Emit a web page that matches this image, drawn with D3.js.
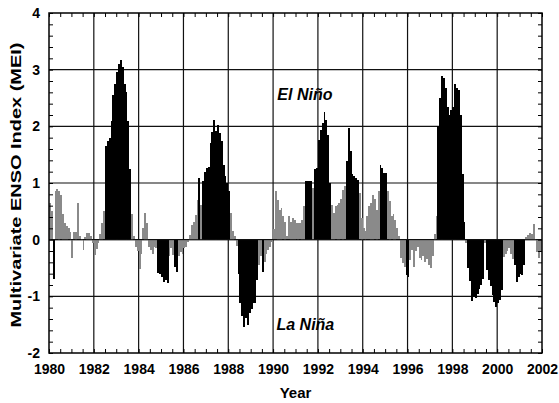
<!DOCTYPE html>
<html><head><meta charset="utf-8">
<script src="https://cdn.jsdelivr.net/npm/d3@7"></script>
<style>
body{margin:0;background:#fff;}
text{font-family:"Liberation Sans",Arial,Helvetica,sans-serif;}
</style></head>
<body><svg id="c" width="559" height="403"></svg>
<script>
// ---------- data ----------
const startYear = 1980;
// monthly MEI values, Jan 1980 .. Dec 2001 (one row per year)
const meiValues = [
 0.65, 0.5, -0.68, 0.85, 0.89, 0.86, 0.78, 0.45, 0.3, 0.25, 0.2, 0.14,
 -0.32, 0.13, 0.14, 0.64, 0.06, 0.02, -0.17, 0.04, 0.12, 0.12, 0.07, -0.05,
 -0.26, -0.16, -0.06, 0.1, 0.3, 0.5, 1.65, 1.74, 1.8, 2.1, 2.55, 2.75,
 2.95, 3.1, 3.17, 3.05, 2.75, 2.6, 2.1, 1.25, 0.45, 0.06, -0.12, -0.2,
 -0.52, -0.25, 0.2, 0.47, 0.3, -0.12, -0.18, -0.24, -0.12, -0.15, -0.59, -0.6,
 -0.65, -0.74, -0.7, -0.76, -0.29, -0.15, -0.26, -0.47, -0.56, -0.29, -0.21, -0.24,
 -0.15, -0.12, -0.03, 0.09, 0.26, 0.32, 0.44, 0.7, 1.09, 0.62, 1.03, 1.2,
 1.26, 1.29, 1.71, 1.9, 2.12, 1.91, 2.03, 1.88, 1.74, 1.32, 1.12, 1.0,
 0.85, 0.47, 0.15, 0.06, -0.1, -0.6, -1.12, -1.35, -1.53, -1.38, -1.5, -1.29,
 -1.21, -1.12, -1.12, -0.71, -0.44, -0.29, -0.56, -0.38, -0.24, -0.18, -0.12, -0.03,
 0.18, 0.85, 0.7, 0.53, 0.56, 0.41, 0.32, 0.06, 0.41, 0.32, 0.38, 0.35,
 0.29, 0.3, 0.29, 0.35, 0.6, 1.03, 1.03, 1.03, 1.03, 0.92, 1.24, 1.26,
 1.76, 1.94, 2.06, 2.26, 2.12, 1.85, 1.0, 0.62, 0.47, 0.59, 0.62, 0.65,
 0.71, 0.88, 0.94, 1.38, 1.97, 1.56, 1.15, 1.12, 1.08, 1.05, 0.82, 0.38,
 0.2, 0.15, 0.41, 0.59, 0.65, 0.79, 0.71, 0.53, 0.85, 1.32, 1.26, 1.18,
 1.18, 0.85, 0.68, 0.41, 0.46, 0.35, 0.2, 0.06, -0.32, -0.41, -0.47, -0.62,
 -0.65, -0.35, -0.18, -0.47, -0.2, -0.12, -0.32, -0.35, -0.29, -0.38, -0.33, -0.44,
 -0.5, -0.29, 0.1, 0.41, 2.0, 2.5, 2.88, 2.85, 2.68, 2.35, 2.2, 2.29,
 2.35, 2.74, 2.68, 2.65, 2.2, 1.15, 0.32, -0.05, -0.5, -0.72, -1.08, -1.0,
 -1.02, -0.95, -0.86, -0.8, -0.68, -0.05, -0.53, -0.7, -0.82, -0.97, -1.09, -1.18,
 -1.12, -1.06, -0.88, -0.3, -0.25, -0.2, -0.15, -0.25, -0.33, -0.45, -0.74, -0.65,
 -0.6, -0.62, -0.45, 0.05, 0.08, 0.12, 0.1, 0.28, 0.02, -0.22, -0.32, -0.2
];
// ENSO event periods (drawn in black), inclusive months
const eventPeriods = [
 ["1980-03","1980-03"], ["1982-07","1983-08"], ["1984-11","1985-04"],
 ["1985-08","1985-09"], ["1986-09","1986-09"], ["1986-11","1988-01"],
 ["1988-06","1989-04"], ["1989-07","1989-07"], ["1991-06","1991-09"],
 ["1991-11","1992-07"], ["1993-04","1993-10"], ["1994-10","1995-01"],
 ["1995-12","1996-01"], ["1997-05","1998-07"], ["1998-09","1999-05"],
 ["1999-07","2000-03"], ["2000-10","2001-03"]
];
const xTickYears = [1980,1982,1984,1986,1988,1990,1992,1994,1996,1998,2000,2002];
const yTickValues = [-2,-1,0,1,2,3,4];
const annotations = [
 {text:"El Niño", year:1991.42, value:2.47},
 {text:"La Niña", year:1991.44, value:-1.6}
];
const xTitle = "Year";
const yTitle = "Multivariate ENSO Index (MEI)";

// ---------- drawing ----------
const svg = d3.select("#c");
const L = 49, R = 542, T = 13, B = 353;
const x = d3.scaleLinear().domain([1980, 2002]).range([L, R]);
const y = d3.scaleLinear().domain([-2, 4]).range([B, T]);

const monthIdx = s => { const [yy, mm] = s.split("-").map(Number); return (yy - startYear) * 12 + mm - 1; };
const isEvent = i => eventPeriods.some(([a, b]) => i >= monthIdx(a) && i <= monthIdx(b));

const data = meiValues.map((v, i) => ({t0: startYear + i / 12, t1: startYear + (i + 1) / 12, v, ev: isEvent(i)}));

// grid
const grid = svg.append("g").attr("stroke", "#111").attr("stroke-width", 1.2);
grid.selectAll("line.v").data(xTickYears.slice(1, -1)).join("line")
  .attr("x1", d => x(d)).attr("x2", d => x(d)).attr("y1", T).attr("y2", B);
grid.selectAll("line.h").data(yTickValues.slice(1, -1)).join("line")
  .attr("y1", d => y(d)).attr("y2", d => y(d)).attr("x1", L).attr("x2", R);

// bars
svg.append("g").attr("shape-rendering", "crispEdges").selectAll("rect").data(data).join("rect")
  .attr("x", d => Math.round(x(d.t0)))
  .attr("width", d => Math.round(x(d.t1)) - Math.round(x(d.t0)))
  .attr("y", d => Math.round(Math.min(y(d.v), y(0))))
  .attr("height", d => Math.round(Math.abs(y(d.v) - y(0))))
  .attr("fill", d => d.ev ? "#000" : "#8a8a8a");

// zero line
svg.append("line").attr("x1", L).attr("x2", R).attr("y1", y(0)).attr("y2", y(0))
  .attr("stroke", "#111").attr("stroke-width", 1);

// minor ticks on all sides (inward)
const xMinor = d3.range(0, 45).map(i => 1980 + i * 0.5);
const yMinor = d3.range(0, 31).map(i => -2 + i * 0.2);
function styleAxis(g){ g.select(".domain").remove(); g.selectAll("line").attr("stroke","#000").attr("stroke-width",1); g.selectAll("text").remove(); }
svg.append("g").attr("transform", `translate(0,${B})`).call(d3.axisBottom(x).tickValues(xMinor).tickSize(-4)).call(styleAxis);
svg.append("g").attr("transform", `translate(0,${T})`).call(d3.axisTop(x).tickValues(xMinor).tickSize(-4)).call(styleAxis);
svg.append("g").attr("transform", `translate(${L},0)`).call(d3.axisLeft(y).tickValues(yMinor).tickSize(-4)).call(styleAxis);
svg.append("g").attr("transform", `translate(${R},0)`).call(d3.axisRight(y).tickValues(yMinor).tickSize(-4)).call(styleAxis);

// frame
svg.append("rect").attr("x", L).attr("y", T).attr("width", R - L).attr("height", B - T)
  .attr("fill", "none").attr("stroke", "#000").attr("stroke-width", 1.5);

// tick labels
const xa = svg.append("g").attr("transform", `translate(0,${B})`)
  .call(d3.axisBottom(x).tickValues(xTickYears).tickSize(0).tickPadding(11).tickFormat(d => String(d)));
xa.select(".domain").remove();
xa.selectAll("text").attr("font-size", 14).attr("font-weight", "bold").attr("fill", "#000")
  .attr("font-family", "Liberation Sans, Arial, sans-serif");
const ya = svg.append("g").attr("transform", `translate(${L},0)`)
  .call(d3.axisLeft(y).tickValues(yTickValues).tickSize(0).tickPadding(9).tickFormat(d => String(d)));
ya.select(".domain").remove();
ya.selectAll("text").attr("font-size", 14).attr("font-weight", "bold").attr("fill", "#000")
  .attr("font-family", "Liberation Sans, Arial, sans-serif");

// titles
svg.append("text").attr("x", (L + R) / 2).attr("y", 398).attr("text-anchor", "middle")
  .attr("font-size", 15).attr("font-weight", "bold").text(xTitle);
svg.append("text").attr("transform", `translate(21,${(T + B) / 2 + 2}) rotate(-90)`)
  .attr("text-anchor", "middle").attr("font-size", 15).attr("font-weight", "bold")
  .attr("textLength", 285).attr("lengthAdjust", "spacingAndGlyphs").text(yTitle);

// annotations
svg.selectAll("text.ann").data(annotations).join("text").attr("class", "ann")
  .attr("x", d => x(d.year)).attr("y", d => y(d.value)).attr("text-anchor", "middle")
  .attr("font-size", 16).attr("font-weight", "bold").attr("font-style", "italic")
  .text(d => d.text);
</script>
</body></html>
